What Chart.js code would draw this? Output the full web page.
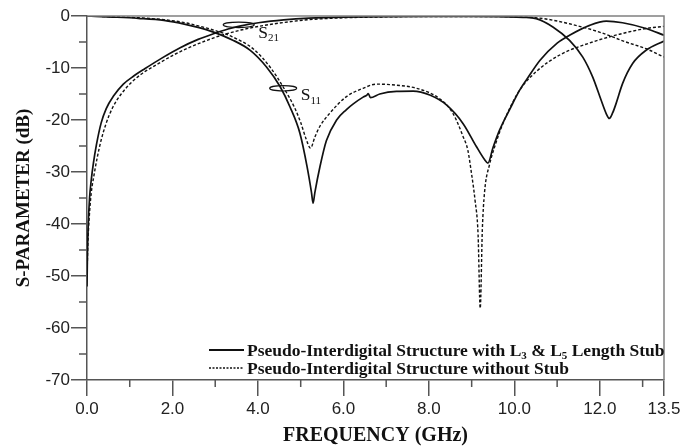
<!DOCTYPE html>
<html>
<head>
<meta charset="utf-8">
<script src="https://cdn.jsdelivr.net/npm/chart.js@4.4.1/dist/chart.umd.min.js"></script>
<style>
  html, body { margin: 0; padding: 0; background: #fff; }
  #chart { display: block; }
</style>
</head>
<body>
<canvas id="chart" width="698" height="446"></canvas>
<script>
// axis ticks
const xTicks = [0, 2, 4, 6, 8, 10, 12, 13.5];
const xMinorTicks = [1, 3, 5, 7, 9, 11, 13];
const yTicks = [0, -10, -20, -30, -40, -50, -60, -70];
const yMinorTicks = [-5, -15, -25, -35, -45, -55, -65];

// S11, with L3 & L5 length stub (solid)
const s11StubFreq = [0, 0.6, 1.2, 1.8, 2.3, 2.6, 2.96, 3.4, 3.82, 4.2, 4.52, 4.75, 4.98, 5.15, 5.25, 5.29, 5.33, 5.45, 5.6, 5.84, 6.07, 6.23, 6.46, 6.55, 6.58, 6.63, 6.85, 7.24, 7.63, 8.02, 8.41, 8.8, 9.11, 9.3, 9.38, 9.5, 9.65, 9.9, 10.12, 10.28, 10.6, 11.0, 11.29, 11.76, 12.15, 12.53, 13.08, 13.5];
const s11StubDb = [0, -0.2, -0.45, -0.85, -1.6, -2.2, -3.1, -4.6, -6.6, -9.8, -13.6, -17.5, -22.5, -29, -33.8, -36, -34, -29, -24, -20, -18, -16.9, -15.6, -15.2, -14.9, -15.7, -15.0, -14.5, -14.45, -15.2, -17.1, -20.7, -25.1, -27.6, -28.3, -25.3, -22, -17.8, -14.3, -12.3, -8.5, -5.2, -3.7, -1.8, -1.0, -1.3, -2.4, -3.7];

// S11, without stub (dotted)
const s11NoStubFreq = [0, 0.6, 1.2, 1.8, 2.3, 2.7, 3.0, 3.4, 3.9, 4.3, 4.6, 4.85, 5.0, 5.12, 5.23, 5.33, 5.45, 5.68, 6.07, 6.46, 6.77, 7.24, 7.71, 8.25, 8.56, 8.8, 8.91, 9.0, 9.08, 9.15, 9.2, 9.25, 9.3, 9.42, 9.54, 9.73, 10.12, 10.51, 11.06, 11.83, 12.46, 13.08, 13.5];
const s11NoStubDb = [0, -0.15, -0.35, -0.7, -1.3, -2.1, -2.8, -4.0, -6.4, -10, -13.8, -17.5, -20.5, -23.5, -25.4, -23.3, -21.2, -18.7, -15.5, -13.9, -13.1, -13.3, -13.9, -15.9, -18.7, -23.2, -25.8, -30.5, -35.5, -42, -56.2, -41, -34, -28.5, -25.1, -20.7, -14.3, -10.7, -7.5, -5.0, -3.5, -2.4, -2.0];

// S21, with L3 & L5 length stub (solid)
const s21StubFreq = [0, 0.01, 0.03, 0.06, 0.1, 0.15, 0.22, 0.33, 0.45, 0.62, 0.85, 1.1, 1.36, 1.75, 2.18, 2.6, 2.96, 3.3, 3.6, 4.05, 4.6, 5.2, 6.0, 7.0, 8.0, 9.0, 9.8, 10.2, 10.51, 10.9, 11.29, 11.6, 11.83, 12.03, 12.15, 12.22, 12.3, 12.38, 12.53, 12.77, 13.08, 13.5];
const s21StubDb = [-52, -46, -40, -35, -31.5, -28.3, -24.8, -20.6, -17.8, -15.4, -13.1, -11.5, -10.1, -8.1, -6.1, -4.5, -3.4, -2.5, -1.9, -1.25, -0.75, -0.42, -0.22, -0.12, -0.1, -0.1, -0.15, -0.25, -0.5, -2.1, -4.7, -7.9, -11.7, -16.2, -18.8, -19.7, -18.6, -16.8, -13, -9.1, -6.6, -4.8];

// S21, without stub (dotted)
const s21NoStubFreq = [0, 0.02, 0.05, 0.1, 0.16, 0.24, 0.33, 0.45, 0.6, 0.8, 1.05, 1.3, 1.6, 2.0, 2.41, 2.8, 3.19, 3.6, 4.05, 4.6, 5.2, 6.0, 7.0, 8.0, 9.0, 10.0, 10.67, 11.29, 11.99, 12.61, 13.08, 13.5];
const s21NoStubDb = [-50, -44, -39, -34, -30.8, -27.2, -23.9, -20.6, -17.6, -15.0, -12.7, -11.0, -9.5, -7.6, -6.0, -4.7, -3.6, -2.7, -1.95, -1.25, -0.7, -0.35, -0.17, -0.1, -0.1, -0.15, -0.5, -1.5, -3.1, -5.0, -6.3, -7.9];

const legendLabels = [
  'Pseudo-Interdigital Structure with L_3 & L_5 Length Stub',
  'Pseudo-Interdigital Structure without Stub'
];

// curve labels: ellipse around the curve + text
const curveLabels = [
  { text: 'S_21', freq: 3.55, db: -1.7 },
  { text: 'S_11', freq: 4.59, db: -13.9 }
];

const DOTS = [3, 2];

function toPoints(freq, db) {
  return freq.map((f, i) => ({ x: f, y: db[i] }));
}

function curve(label, freq, db, dashed) {
  return {
    label: label,
    data: toPoints(freq, db),
    borderColor: '#111',
    borderWidth: dashed ? 1.4 : 1.7,
    borderDash: dashed ? DOTS : [],
    pointRadius: 0,
    cubicInterpolationMode: 'monotone',
    fill: false
  };
}

// text with "_3" style subscripts
function drawRich(ctx, str, x, y, size, weight) {
  const parts = str.split(/_(\d+)/);
  parts.forEach((p, i) => {
    if (!p) return;
    const sub = i % 2 === 1;
    ctx.font = weight + ' ' + (sub ? Math.round(size * 0.65) : size) + 'px "Liberation Serif"';
    ctx.fillText(p, x, sub ? y + size * 0.2 : y);
    x += ctx.measureText(p).width;
  });
}

const decorations = {
  id: 'decorations',
  afterDraw(chart) {
    const { ctx, chartArea: a, scales: { x, y } } = chart;
    ctx.save();

    // top and right frame
    ctx.strokeStyle = '#808080';
    ctx.lineWidth = 1.5;
    ctx.beginPath();
    ctx.moveTo(a.left, a.top);
    ctx.lineTo(a.right, a.top);
    ctx.lineTo(a.right, a.bottom);
    ctx.stroke();

    // minor ticks
    ctx.strokeStyle = '#555';
    ctx.beginPath();
    xMinorTicks.forEach(v => {
      const px = x.getPixelForValue(v);
      ctx.moveTo(px, a.bottom);
      ctx.lineTo(px, a.bottom + 7);
    });
    yMinorTicks.forEach(v => {
      const py = y.getPixelForValue(v);
      ctx.moveTo(a.left - 8, py);
      ctx.lineTo(a.left, py);
    });
    ctx.stroke();

    // curve labels
    ctx.fillStyle = '#111';
    ctx.strokeStyle = '#111';
    ctx.lineWidth = 1.2;
    ctx.textBaseline = 'alphabetic';
    ctx.textAlign = 'left';
    curveLabels.forEach((c, i) => {
      const cx = x.getPixelForValue(c.freq);
      const cy = y.getPixelForValue(c.db);
      const rx = i === 0 ? 15.5 : 13.5;
      ctx.beginPath();
      ctx.ellipse(cx, cy, rx, 2.7, 0, 0, Math.PI * 2);
      ctx.stroke();
      drawRich(ctx, c.text, cx + rx + 4, cy + (i === 0 ? 13 : 12), 17.5, 'normal');
    });

    // legend
    const lx = a.left + 122;
    legendLabels.forEach((t, i) => {
      const ly = a.bottom - 30 + i * 18;
      ctx.beginPath();
      ctx.lineWidth = i === 0 ? 1.8 : 1.4;
      ctx.setLineDash(i === 0 ? [] : [2, 1.5]);
      ctx.moveTo(lx, ly);
      ctx.lineTo(lx + 35, ly);
      ctx.stroke();
      ctx.setLineDash([]);
      drawRich(ctx, t, lx + 38, ly + 5.5, 17.5, 'bold');
    });

    ctx.restore();
  }
};

const tickFont = { family: '"Liberation Sans", Arial, sans-serif', size: 17 };

new Chart(document.getElementById('chart'), {
  type: 'line',
  data: {
    datasets: [
      curve('S11 with stub', s11StubFreq, s11StubDb, false),
      curve('S11 without stub', s11NoStubFreq, s11NoStubDb, true),
      curve('S21 with stub', s21StubFreq, s21StubDb, false),
      curve('S21 without stub', s21NoStubFreq, s21NoStubDb, true)
    ]
  },
  options: {
    responsive: false,
    animation: false,
    devicePixelRatio: 1,
    layout: { padding: { top: 16, right: 34, bottom: 0, left: 0 } },
    plugins: { legend: { display: false }, tooltip: { enabled: false } },
    scales: {
      x: {
        type: 'linear',
        min: 0,
        max: 13.5,
        afterBuildTicks: s => { s.ticks = xTicks.map(v => ({ value: v })); },
        afterFit: s => { s.height = 66; },
        ticks: { callback: v => v.toFixed(1), font: tickFont, color: '#222', padding: 3, maxRotation: 0, autoSkip: false },
        grid: { drawOnChartArea: false, tickLength: 16, color: '#555', lineWidth: 1.5 },
        border: { color: '#555', width: 1.5 },
        title: {
          display: true,
          text: 'FREQUENCY (GHz)',
          color: '#111',
          font: { family: '"Liberation Serif", serif', size: 20, weight: 'bold', lineHeight: 1 },
          padding: { top: 0, bottom: 0 }
        }
      },
      y: {
        type: 'linear',
        min: -70,
        max: 0,
        afterBuildTicks: s => { s.ticks = yTicks.map(v => ({ value: v })); },
        afterFit: s => { s.width = 87; },
        ticks: { callback: v => String(v), font: tickFont, color: '#222', padding: 1 },
        grid: { drawOnChartArea: false, tickLength: 16, color: '#555', lineWidth: 1.5 },
        border: { color: '#555', width: 1.5 },
        title: {
          display: true,
          text: 'S-PARAMETER (dB)',
          color: '#111',
          font: { family: '"Liberation Serif", serif', size: 19, weight: 'bold', lineHeight: 1 },
          padding: { top: 15, bottom: 0 }
        }
      }
    }
  },
  plugins: [decorations]
});
</script>
</body>
</html>
